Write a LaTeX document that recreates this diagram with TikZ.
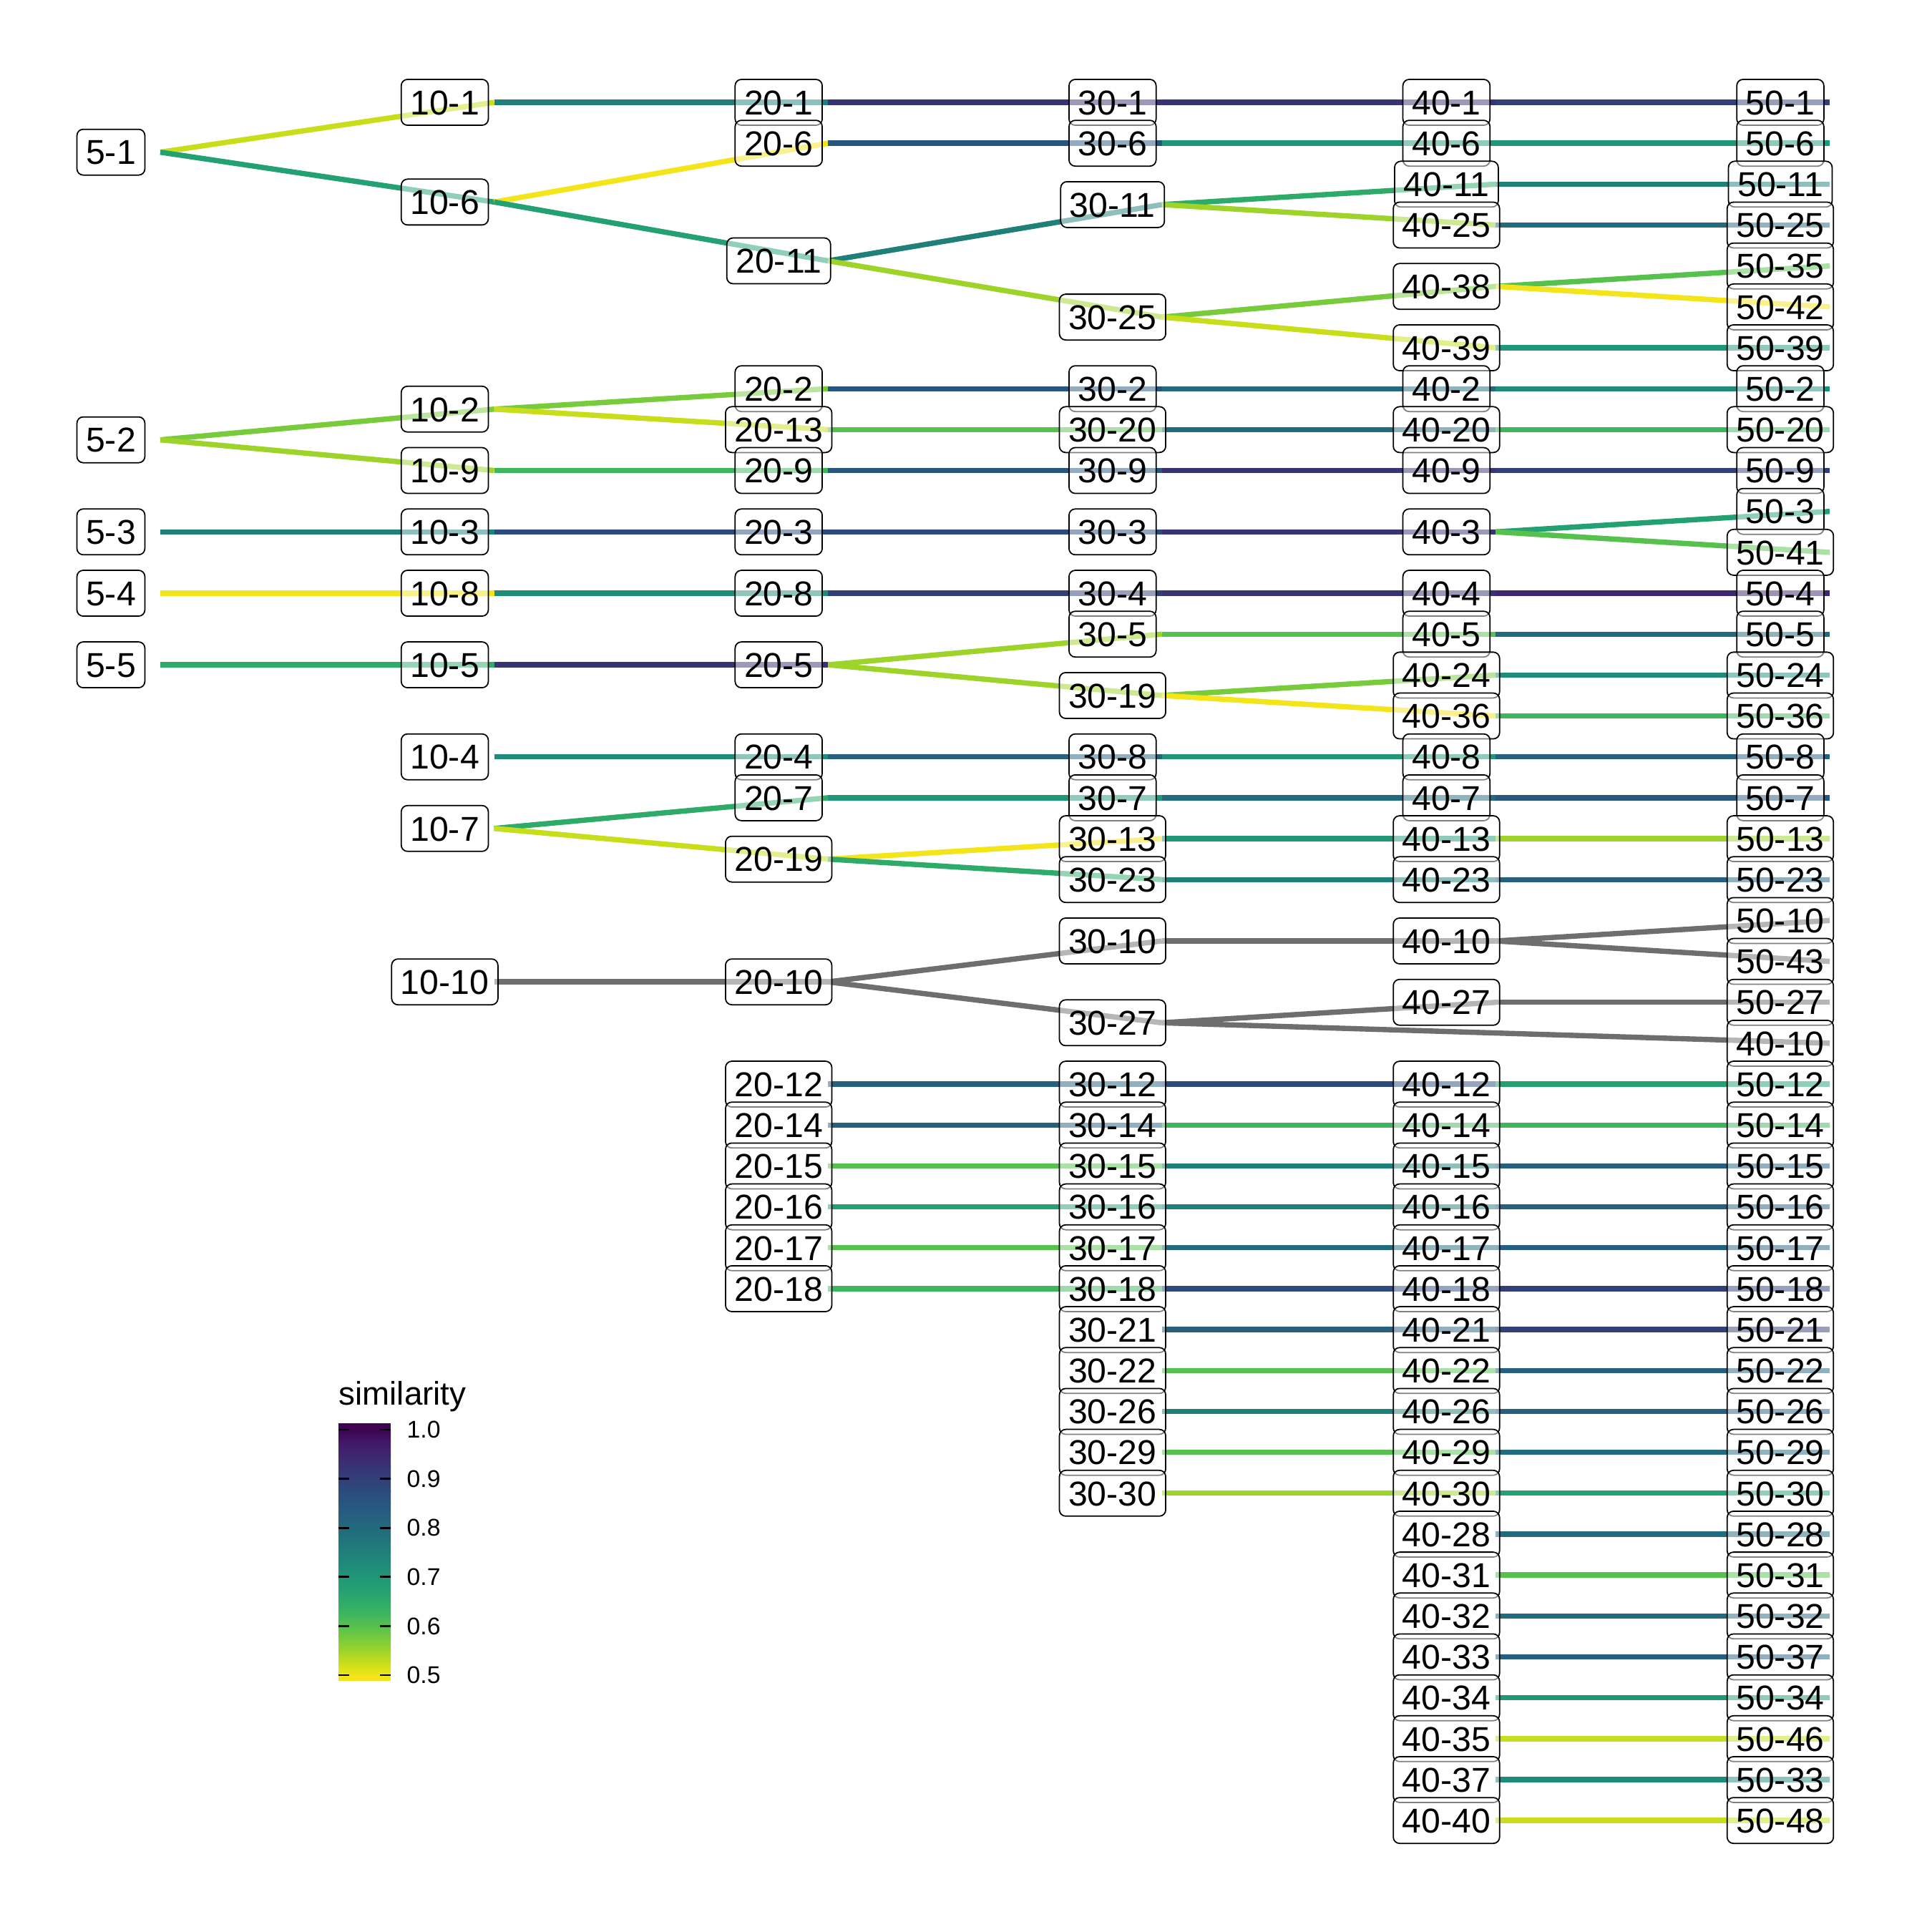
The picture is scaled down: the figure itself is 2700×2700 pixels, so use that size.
\documentclass[tikz,border=0pt]{standalone}
\usepackage{fontspec}
\setmainfont{Liberation Sans}
\usetikzlibrary{backgrounds}
\definecolor{vir0}{HTML}{3E0451}
\definecolor{vir1}{HTML}{42176A}
\definecolor{vir2}{HTML}{3F2670}
\definecolor{vir3}{HTML}{383373}
\definecolor{vir4}{HTML}{323F78}
\definecolor{vir5}{HTML}{2C4B7C}
\definecolor{vir6}{HTML}{28567F}
\definecolor{vir7}{HTML}{25607F}
\definecolor{vir8}{HTML}{226A7D}
\definecolor{vir9}{HTML}{20757B}
\definecolor{vir10}{HTML}{1F807A}
\definecolor{vir11}{HTML}{1F8B79}
\definecolor{vir12}{HTML}{209678}
\definecolor{vir13}{HTML}{24A172}
\definecolor{vir14}{HTML}{2EAB69}
\definecolor{vir15}{HTML}{3EB65E}
\definecolor{vir16}{HTML}{57C14E}
\definecolor{vir17}{HTML}{78CB3B}
\definecolor{vir18}{HTML}{9ED42A}
\definecolor{vir19}{HTML}{C8DE1A}
\definecolor{vir20}{HTML}{F3E51A}
\definecolor{nagray}{HTML}{6E6E6E}
\tikzset{
  lbl/.style={
    draw=black,
    line width=0.5pt,
    rounded corners=2.5pt,
    fill=white,
    fill opacity=0.5,
    text opacity=1,
    inner xsep=3.6pt,
    inner ysep=0pt,
    minimum height=6.4mm,
    text height=9.8pt,
    text depth=0pt,
    font=\fontsize{13.7}{15}\selectfont
  },
  link/.style={line width=2.1pt},
  tickmark/.style={line width=0.8pt, draw=black},
  ticklbl/.style={font=\fontsize{9.6}{11}\selectfont, anchor=west, inner sep=0pt},
}
\newcommand{\SimColumn}[2]{%
  \foreach \id/\k in {#2} {
    \coordinate (p\id) at ({224+466.6*#1}, {143+57.17*\k});
    \node[lbl] (L\id) at ({155+466.6*#1}, {143+57.17*\k}) {\id};
  }
}
\newcommand{\SimLinks}[1]{%
  \foreach \a/\b/\c in {#1} {
    \draw[link, draw=vir\c] (p\a) -- (p\b);
  }
}

\begin{document}
\begin{tikzpicture}[x=0.01cm, y=-0.01cm]
  \useasboundingbox (0,0) rectangle (2700,2700);
  \SimColumn{0}{5-1/1.21875,5-2/8.25,5-3/10.5,5-4/12,5-5/13.75}
  \SimColumn{1}{10-1/0,10-6/2.4375,10-2/7.5,10-9/9,10-3/10.5,10-8/12,10-5/13.75,10-4/16,10-7/17.75,10-10/21.5}
  \SimColumn{2}{20-1/0,20-6/1,20-11/3.875,20-2/7,20-13/8,20-9/9,20-3/10.5,20-8/12,20-5/13.75,20-4/16,20-7/17,20-19/18.5,20-10/21.5,20-12/24,20-14/25,20-15/26,20-16/27,20-17/28,20-18/29}
  \SimColumn{3}{30-1/0,30-6/1,30-11/2.5,30-25/5.25,30-2/7,30-20/8,30-9/9,30-3/10.5,30-4/12,30-5/13,30-19/14.5,30-8/16,30-7/17,30-13/18,30-23/19,30-10/20.5,30-27/22.5,30-12/24,30-14/25,30-15/26,30-16/27,30-17/28,30-18/29,30-21/30,30-22/31,30-26/32,30-29/33,30-30/34}
  \SimColumn{4}{40-1/0,40-6/1,40-11/2,40-25/3,40-38/4.5,40-39/6,40-2/7,40-20/8,40-9/9,40-3/10.5,40-4/12,40-5/13,40-24/14,40-36/15,40-8/16,40-7/17,40-13/18,40-23/19,40-10/20.5,40-27/22,40-12/24,40-14/25,40-15/26,40-16/27,40-17/28,40-18/29,40-21/30,40-22/31,40-26/32,40-29/33,40-30/34,40-28/35,40-31/36,40-32/37,40-33/38,40-34/39,40-35/40,40-37/41,40-40/42}
  \SimColumn{5}{50-1/0,50-6/1,50-11/2,50-25/3,50-35/4,50-42/5,50-39/6,50-2/7,50-20/8,50-9/9,50-3/10,50-41/11,50-4/12,50-5/13,50-24/14,50-36/15,50-8/16,50-7/17,50-13/18,50-23/19,50-10/20,50-43/21,50-27/22}
  \coordinate (p40-10b) at ({224+466.6*5}, {143+57.17*23});
  \node[lbl] (L40-10b) at ({155+466.6*5}, {143+57.17*23}) {40-10};
  \SimColumn{5}{50-12/24,50-14/25,50-15/26,50-16/27,50-17/28,50-18/29,50-21/30,50-22/31,50-26/32,50-29/33,50-30/34,50-28/35,50-31/36,50-32/37,50-37/38,50-34/39,50-46/40,50-33/41,50-48/42}

  \begin{scope}[on background layer]
    \fill[white] (0,0) rectangle (2700,2700);
    \SimLinks{5-1/10-1/19,5-1/10-6/13,10-1/20-1/10,10-6/20-6/20,10-6/20-11/13,20-1/30-1/3,20-6/30-6/6,20-11/30-11/10,20-11/30-25/18,30-1/40-1/3,30-6/40-6/12,30-11/40-11/14,30-11/40-25/18,30-25/40-38/17,30-25/40-39/19,40-1/50-1/4,40-6/50-6/12,40-11/50-11/10,40-25/50-25/8,40-38/50-35/16,40-38/50-42/20,40-39/50-39/12}
    \SimLinks{5-2/10-2/17,5-2/10-9/18,10-2/20-2/17,10-2/20-13/19,10-9/20-9/15,20-2/30-2/6,20-13/30-20/16,20-9/30-9/6,30-2/40-2/8,30-20/40-20/8,30-9/40-9/3,40-2/50-2/11,40-20/50-20/15,40-9/50-9/4}
    \SimLinks{5-3/10-3/10,10-3/20-3/5,20-3/30-3/5,30-3/40-3/3,40-3/50-3/13,40-3/50-41/16,5-4/10-8/20,10-8/20-8/11,20-8/30-4/4,30-4/40-4/3,40-4/50-4/2}
    \SimLinks{5-5/10-5/14,10-5/20-5/3,20-5/30-5/18,20-5/30-19/18,30-5/40-5/16,30-19/40-24/17,30-19/40-36/20,40-5/50-5/8,40-24/50-24/11,40-36/50-36/15}
    \SimLinks{10-4/20-4/11,20-4/30-8/7,30-8/40-8/12,40-8/50-8/7,10-7/20-7/14,10-7/20-19/19,20-7/30-7/12,20-19/30-13/20,20-19/30-23/14,30-7/40-7/8,30-13/40-13/12,30-23/40-23/10,40-7/50-7/6,40-13/50-13/18,40-23/50-23/7}
    \foreach \a/\b in {10-10/20-10,20-10/30-10,20-10/30-27,30-10/40-10,30-27/40-27,30-27/40-10b,40-10/50-10,40-10/50-43,40-27/50-27} {
      \draw[link, draw=nagray] (p\a) -- (p\b);
    }
    \SimLinks{20-12/30-12/7,30-12/40-12/5,40-12/50-12/13,20-14/30-14/7,30-14/40-14/15,40-14/50-14/15,20-15/30-15/16,30-15/40-15/10,40-15/50-15/7,20-16/30-16/13,30-16/40-16/10,40-16/50-16/7,20-17/30-17/16,30-17/40-17/8,40-17/50-17/7,20-18/30-18/15,30-18/40-18/5,40-18/50-18/4}
    \SimLinks{30-21/40-21/7,40-21/50-21/4,30-22/40-22/16,40-22/50-22/7,30-26/40-26/10,40-26/50-26/7,30-29/40-29/16,40-29/50-29/8,30-30/40-30/18,40-30/50-30/13}
    \SimLinks{40-28/50-28/8,40-31/50-31/16,40-32/50-32/8,40-33/50-37/7,40-34/50-34/12,40-35/50-46/19,40-37/50-33/11,40-40/50-48/19}
  \end{scope}

  \node[anchor=base west, inner sep=0pt, font=\fontsize{13}{15}\selectfont] (legtitle) at (473,1963) {similarity};
  \fill[vir0] (473,1989) rectangle (546,1999);
  \foreach \n [count=\m] in {0,...,19} {
    \shade[top color=vir\n, bottom color=vir\m] (473,{1998+17.15*\n}) rectangle (546,{1998.6+17.15*\m});
  }
  \fill[vir20] (473,2340) rectangle (546,2349);
  \foreach \v [count=\t from 0] in {1.0,0.9,0.8,0.7,0.6,0.5} {
    \draw[tickmark] (473,{1998+68.6*\t}) -- (488,{1998+68.6*\t});
    \draw[tickmark] (531,{1998+68.6*\t}) -- (546,{1998+68.6*\t});
    \node[ticklbl] (tk\t) at (568,{1998+68.6*\t}) {\v};
  }
\end{tikzpicture}
\end{document}
